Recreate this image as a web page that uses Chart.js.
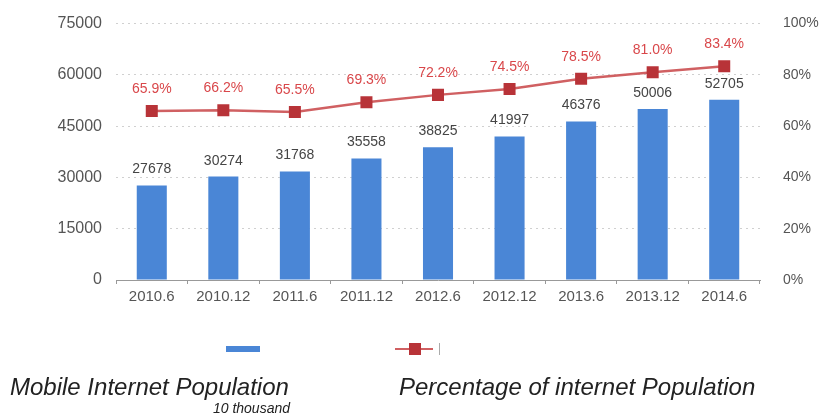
<!DOCTYPE html>
<html>
<head>
<meta charset="utf-8">
<script src="https://cdn.jsdelivr.net/npm/chart.js@4.4.1/dist/chart.umd.min.js"></script>
<style>
  html, body { margin: 0; padding: 0; background: #fff; }
  #wrap { position: relative; width: 821px; height: 418px; }
</style>
</head>
<body>
<div id="wrap"><canvas id="c" width="821" height="418"></canvas></div>
<script>
// Half-year periods
const periods = ['2010.6', '2010.12', '2011.6', '2011.12', '2012.6', '2012.12', '2013.6', '2013.12', '2014.6'];
// Mobile internet users, in units of 10 thousand
const mobileUsers = [27678, 30274, 31768, 35558, 38825, 41997, 46376, 50006, 52705];
// Share of internet users going online by mobile, %
const mobileShare = [65.9, 66.2, 65.5, 69.3, 72.2, 74.5, 78.5, 81.0, 83.4];
// Axis ticks
const leftTicks = [0, 15000, 30000, 45000, 60000, 75000];
const rightTicks = [0, 20, 40, 60, 80, 100];

const BAR_BLUE = '#4a86d6';
const LINE_RED = '#d06062';
const MARK_RED = '#b83338';
const FONT = '"Liberation Sans", Arial, sans-serif';

const valueLabels = {
  id: 'valueLabels',
  afterDatasetsDraw(chart) {
    const ctx = chart.ctx;
    ctx.save();
    ctx.textAlign = 'center';
    ctx.textBaseline = 'alphabetic';
    ctx.font = '14px ' + FONT;
    chart.getDatasetMeta(0).data.forEach((bar, i) => {
      ctx.fillStyle = '#454545';
      ctx.fillText(String(mobileUsers[i]), bar.x, bar.y - 12);
    });
    chart.getDatasetMeta(1).data.forEach((pt, i) => {
      ctx.fillStyle = '#d9474a';
      ctx.fillText(mobileShare[i].toFixed(1) + '%', pt.x, pt.y - 18);
    });
    ctx.restore();
  }
};

const legendBlock = {
  id: 'legendBlock',
  afterDraw(chart) {
    const ctx = chart.ctx;
    ctx.save();
    // bar swatch
    ctx.fillStyle = BAR_BLUE;
    ctx.fillRect(226, 346, 34, 6);
    // line swatch with square marker
    ctx.strokeStyle = LINE_RED;
    ctx.lineWidth = 2;
    ctx.beginPath();
    ctx.moveTo(395, 349);
    ctx.lineTo(433, 349);
    ctx.stroke();
    ctx.fillStyle = MARK_RED;
    ctx.fillRect(409, 343, 12, 12);
    ctx.strokeStyle = '#aaa';
    ctx.lineWidth = 1;
    ctx.beginPath();
    ctx.moveTo(439.5, 343);
    ctx.lineTo(439.5, 355);
    ctx.stroke();

    ctx.fillStyle = '#222';
    ctx.textBaseline = 'alphabetic';
    ctx.textAlign = 'left';
    ctx.font = 'italic 24px ' + FONT;
    ctx.fillText('Mobile Internet Population', 10, 395);
    ctx.fillText('Percentage of internet Population', 399, 395);
    ctx.textAlign = 'right';
    ctx.font = 'italic 14px ' + FONT;
    ctx.fillText('10 thousand', 290, 413);
    ctx.restore();
  }
};

new Chart(document.getElementById('c'), {
  data: {
    labels: periods,
    datasets: [
      {
        type: 'bar',
        label: 'Mobile Internet Population',
        data: mobileUsers,
        backgroundColor: BAR_BLUE,
        categoryPercentage: 1,
        barPercentage: 0.42,
        yAxisID: 'y',
        order: 2
      },
      {
        type: 'line',
        label: 'Percentage of internet Population',
        data: mobileShare,
        borderColor: LINE_RED,
        borderWidth: 2.5,
        pointStyle: 'rect',
        pointRadius: 8.5,
        pointBorderWidth: 0,
        pointBackgroundColor: MARK_RED,
        pointBorderColor: MARK_RED,
        tension: 0,
        yAxisID: 'y1',
        order: 1
      }
    ]
  },
  options: {
    responsive: false,
    animation: false,
    layout: { padding: { top: 19, bottom: 0, left: 0, right: 0 } },
    plugins: { legend: { display: false }, tooltip: { enabled: false } },
    scales: {
      x: {
        offset: true,
        grid: { display: true, drawOnChartArea: false, drawTicks: true, tickLength: 4, color: '#999', offset: true },
        border: { display: true, color: '#999', width: 1 },
        ticks: { color: '#555', font: { size: 15, family: FONT }, padding: 4, maxRotation: 0 },
        afterFit(s) { s.height = 138; }
      },
      y: {
        position: 'left',
        min: 0, max: 75000,
        afterBuildTicks(s) { s.ticks = leftTicks.map(v => ({ value: v })); },
        grid: { color: '#d0d0d0', lineWidth: 1, drawTicks: false },
        border: { display: false, dash: [2, 4] },
        ticks: { color: '#555', font: { size: 16, family: FONT }, padding: 14, callback: v => String(v) },
        afterFit(s) { s.width = 116; }
      },
      y1: {
        position: 'right',
        min: 0, max: 100,
        afterBuildTicks(s) { s.ticks = rightTicks.map(v => ({ value: v })); },
        grid: { display: false },
        border: { display: false },
        ticks: { color: '#555', font: { size: 14, family: FONT }, padding: 15, callback: v => v + '%' },
        afterFit(s) { s.width = 61; }
      }
    }
  },
  plugins: [valueLabels, legendBlock]
});
</script>
</body>
</html>
